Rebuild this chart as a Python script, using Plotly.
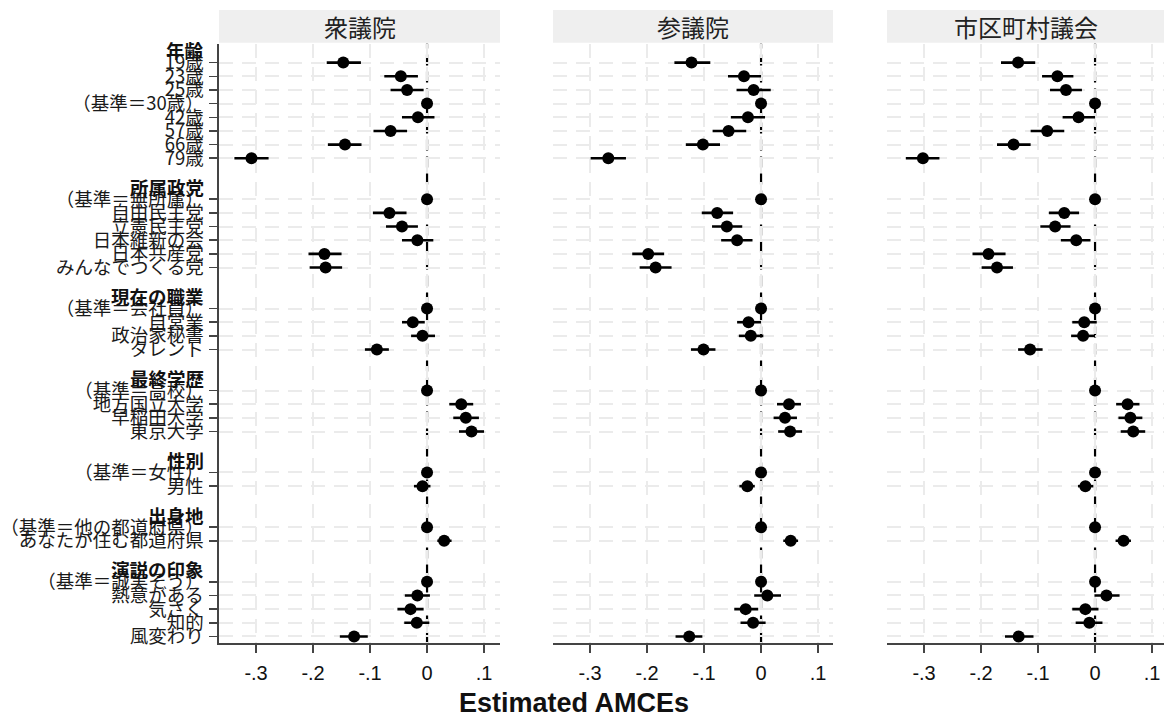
import plotly.graph_objects as go

# ---------------- data ----------------
group_names = ["年齢", "所属政党", "現在の職業", "最終学歴", "性別", "出身地", "演説の印象"]
group_items = [
    ["19歳", "23歳", "25歳", "（基準＝30歳）", "42歳", "57歳", "66歳", "79歳"],
    ["（基準＝無所属）", "自由民主党", "立憲民主党", "日本維新の会", "日本共産党", "みんなでつくる党"],
    ["（基準＝会社員）", "自営業", "政治家秘書", "タレント"],
    ["（基準＝高校）", "地方国立大学", "早稲田大学", "東京大学"],
    ["（基準＝女性）", "男性"],
    ["（基準＝他の都道府県）", "あなたが住む都道府県"],
    ["（基準＝誠実そう）", "熱意がある", "気さく", "知的", "風変わり"],
]
panel_titles = ["衆議院", "参議院", "市区町村議会"]

shu_est = [-0.147, -0.046, -0.035, 0, -0.016, -0.064, -0.144, -0.308,
           0, -0.066, -0.044, -0.017, -0.180, -0.178,
           0, -0.025, -0.008, -0.088,
           0, 0.060, 0.068, 0.078,
           0, -0.008,
           0, 0.030,
           0, -0.017, -0.029, -0.018, -0.128]
shu_lo = [-0.176, -0.075, -0.064, 0, -0.044, -0.094, -0.174, -0.338,
          0, -0.095, -0.072, -0.044, -0.208, -0.206,
          0, -0.044, -0.028, -0.109,
          0, 0.039, 0.046, 0.056,
          0, -0.023,
          0, 0.018,
          0, -0.039, -0.052, -0.040, -0.153]
shu_hi = [-0.116, -0.016, -0.006, 0, 0.013, -0.035, -0.115, -0.278,
          0, -0.036, -0.016, 0.011, -0.150, -0.149,
          0, -0.004, 0.014, -0.067,
          0, 0.081, 0.091, 0.100,
          0, 0.006,
          0, 0.043,
          0, 0.005, -0.006, 0.004, -0.104]

san_est = [-0.122, -0.030, -0.013, 0, -0.023, -0.057, -0.102, -0.268,
           0, -0.077, -0.060, -0.042, -0.198, -0.185,
           0, -0.022, -0.018, -0.101,
           0, 0.049, 0.042, 0.051,
           0, -0.024,
           0, 0.052,
           0, 0.011, -0.027, -0.014, -0.126]
san_lo = [-0.152, -0.058, -0.043, 0, -0.053, -0.085, -0.132, -0.299,
          0, -0.104, -0.086, -0.070, -0.226, -0.213,
          0, -0.042, -0.039, -0.123,
          0, 0.028, 0.022, 0.030,
          0, -0.038,
          0, 0.039,
          0, -0.012, -0.047, -0.036, -0.150]
san_hi = [-0.089, 0.000, 0.017, 0, 0.007, -0.026, -0.072, -0.237,
          0, -0.049, -0.033, -0.015, -0.170, -0.157,
          0, 0.000, 0.004, -0.080,
          0, 0.070, 0.063, 0.072,
          0, -0.011,
          0, 0.065,
          0, 0.035, -0.005, 0.008, -0.103]

shi_est = [-0.135, -0.066, -0.051, 0, -0.029, -0.084, -0.143, -0.302,
           0, -0.054, -0.070, -0.033, -0.187, -0.172,
           0, -0.019, -0.021, -0.114,
           0, 0.057, 0.062, 0.067,
           0, -0.017,
           0, 0.050,
           0, 0.020, -0.017, -0.010, -0.134]
shi_lo = [-0.165, -0.093, -0.079, 0, -0.057, -0.113, -0.172, -0.332,
          0, -0.081, -0.096, -0.060, -0.215, -0.199,
          0, -0.040, -0.042, -0.135,
          0, 0.037, 0.041, 0.045,
          0, -0.030,
          0, 0.036,
          0, -0.001, -0.040, -0.034, -0.158]
shi_hi = [-0.105, -0.038, -0.023, 0, 0.000, -0.054, -0.113, -0.273,
          0, -0.028, -0.043, -0.008, -0.157, -0.144,
          0, 0.003, 0.000, -0.092,
          0, 0.078, 0.083, 0.088,
          0, -0.003,
          0, 0.063,
          0, 0.043, 0.006, 0.013, -0.108]

x_tickvals = [-0.3, -0.2, -0.1, 0, 0.1]
x_ticktext = ["-.3", "-.2", "-.1", "0", ".1"]

panels = [(shu_est, shu_lo, shu_hi), (san_est, san_lo, san_hi), (shi_est, shi_lo, shi_hi)]

# ---------------- positions ----------------
labels, ypos, header_pos = [], [], []
p = 0
for gi, items in enumerate(group_items):
    if gi > 0:
        p += 2
    header_pos.append(p - 0.9)
    for it in items:
        labels.append(it)
        ypos.append(p)
        p += 1
last = ypos[-1]

W, H = 1164, 722
plot_top, plot_bot = 44, 647
panel_px = [(219, 500), (553, 833), (887, 1164)]
px_per_unit = 570.0  # pixels per 1.0 of x
x_left = -0.365

CJK = "Noto Sans CJK JP"
LAT = "Liberation Sans, Arial, sans-serif"
GRID = "#ebebeb"

fig = go.Figure()
layout = dict(
    width=W, height=H, margin=dict(l=0, r=0, t=0, b=0),
    paper_bgcolor="white", plot_bgcolor="white", showlegend=False,
)

y_range = [last + 0.51, -1.38]

annotations, shapes = [], []
for i, ((est, lo, hi), (x0p, x1p)) in enumerate(zip(panels, panel_px)):
    sfx = "" if i == 0 else str(i + 1)
    xa, ya = "x" + sfx, "y" + sfx
    plus = [h - e for h, e in zip(hi, est)]
    minus = [e - l for e, l in zip(est, lo)]
    fig.add_trace(go.Scatter(
        x=est, y=ypos, mode="markers", xaxis=xa, yaxis=ya,
        marker=dict(color="black", size=12),
        error_x=dict(type="data", array=plus, arrayminus=minus, width=0,
                     thickness=2.6, color="black"),
        hoverinfo="skip",
    ))
    x_right = x_left + (x1p - x0p) / px_per_unit
    layout["xaxis" + sfx] = dict(
        domain=[x0p / W, x1p / W], range=[x_left, x_right], anchor=ya,
        tickvals=x_tickvals, ticktext=x_ticktext, ticks="outside", ticklen=8,
        tickwidth=1.5, tickcolor="#444", showline=True, linecolor="#444", linewidth=1.6,
        showgrid=True, gridcolor=GRID, gridwidth=2, griddash="14px,9px",
        zeroline=False, tickfont=dict(family=LAT, size=20, color="#111"),
        ticklabelstandoff=3,
    )
    ydict = dict(
        domain=[(H - plot_bot) / H, (H - plot_top) / H], range=y_range, anchor=xa,
        tickvals=ypos, showgrid=True, gridcolor=GRID, gridwidth=2, griddash="14px,9px",
        zeroline=False,
    )
    if i == 0:
        ydict.update(ticktext=labels, ticks="outside", ticklen=8, tickwidth=1.5,
                     tickcolor="#444", showline=True, linecolor="#444", linewidth=1.6,
                     tickfont=dict(family=CJK, size=18.5, color="#1a1a1a"),
                     ticklabelstandoff=2)
    else:
        ydict.update(showticklabels=False, ticks="", showline=False)
    layout["yaxis" + sfx] = ydict

    # zero reference line
    shapes.append(dict(type="line", xref=xa, yref=ya + " domain", x0=0, x1=0, y0=0, y1=1,
                       line=dict(color="black", width=2.2, dash="11px,6px"), layer="below"))
    # strip
    shapes.append(dict(type="rect", xref="paper", yref="paper",
                       x0=x0p / W, x1=x1p / W, y0=(H - 43) / H, y1=(H - 10) / H,
                       fillcolor="#efefef", line=dict(width=0), layer="below"))
    annotations.append(dict(text=panel_titles[i], xref="paper", yref="paper",
                            x=(x0p + x1p) / 2 / W, y=(H - 26.5) / H, showarrow=False,
                            xanchor="center", yanchor="middle",
                            font=dict(family=CJK, size=24, color="#222")))

for g, hp in zip(group_names, header_pos):
    annotations.append(dict(text="<b>" + g + "</b>", xref="paper", yref="y", x=206 / W, y=hp,
                            xanchor="right", yanchor="middle", showarrow=False,
                            font=dict(family=CJK, size=18.5, color="#111")))

annotations.append(dict(text="<b>Estimated AMCEs</b>", xref="paper", yref="paper",
                        x=574 / W, y=(H - 707) / H, xanchor="center", yanchor="middle",
                        showarrow=False, font=dict(family=LAT, size=27, color="#111")))

layout["annotations"] = annotations
layout["shapes"] = shapes
fig.update_layout(**layout)
fig.write_html("out.html", config={"displayModeBar": False, "staticPlot": True},
               post_script="document.body.style.margin='0px';document.body.style.padding='0px';")
